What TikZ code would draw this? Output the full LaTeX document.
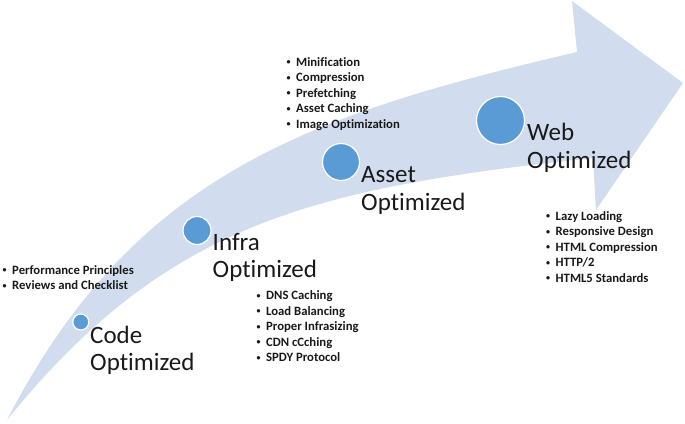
\documentclass[tikz,border=0pt]{standalone}
\usepackage{fontspec}
\setmainfont{Carlito}[Ligatures=CommonOff]
\usepackage{tikz}
\definecolor{band}{RGB}{209, 221, 238}
\definecolor{dotblue}{RGB}{91, 155, 213}
\definecolor{ink}{RGB}{25, 25, 25}
\usetikzlibrary{positioning}
\newcommand\bulitem[1]{\llap{\raisebox{1.2pt}{\fontsize{8}{8}\selectfont\textbullet}\hspace{5.5pt}}#1}

\begin{document}
\begin{tikzpicture}[x=1pt, y=-1pt,
    dot/.style={circle, fill=dotblue, draw=white, line width=1.2pt, inner sep=0pt},
    stage/.style={inner sep=0pt, align=left, text=ink, font=\fontsize{25}{27.5}\selectfont},
    steplist/.style={inner sep=0pt, align=left, text=ink, font=\bfseries\fontsize{12.7}{15.5}\selectfont}]
        \useasboundingbox (0,0) rectangle (685,423);
        % curved arrow
        \fill [band] (7,420) .. controls (133,175) and (307,115) .. (577,52) -- (572,1) -- (683,83) -- (596,210) -- (593,158)
            .. controls (314,188) and (167,222) .. (7,420) -- cycle;
        % stage dots
        \node[dot, minimum size=16pt] (codedot) at (80.8,322) {};
        \node[dot, minimum size=28pt] (infradot) at (197,230.5) {};
        \node[dot, minimum size=37pt] (assetdot) at (341,162) {};
        \node[dot, minimum size=48pt] (webdot) at (500.5,120.5) {};
        % stage names (base = last line)
        \node[stage, anchor=base west] (codename) at (90,370.5) {Code\\Optimized};
        \node[stage, anchor=base west] (infraname) at (212.5,277.5) {Infra\\Optimized};
        \node[stage, anchor=base west] (assetname) at (361,210) {Asset\\Optimized};
        \node[stage, anchor=base west] (webname) at (527,168) {Web\\Optimized};
        % bullet lists
        \node[steplist, anchor=base west] (codelist) at (12,289.5) {\bulitem{Performance Principles}\\\bulitem{Reviews and Checklist}};
        \node[steplist, anchor=base west] (infralist) at (266,361.5) {\bulitem{DNS Caching}\\\bulitem{Load Balancing}\\\bulitem{Proper Infrasizing}\\\bulitem{CDN cCching}\\\bulitem{SPDY Protocol}};
        \node[steplist, anchor=base west] (assetlist) at (296,128) {\bulitem{Minification}\\\bulitem{Compression}\\\bulitem{Prefetching}\\\bulitem{Asset Caching}\\\bulitem{Image Optimization}};
        \node[steplist, anchor=base west] (weblist) at (555.5,282) {\bulitem{Lazy Loading}\\\bulitem{Responsive Design}\\\bulitem{HTML Compression}\\\bulitem{HTTP/2}\\\bulitem{HTML5 Standards}};
    \end{tikzpicture}
\end{document}
